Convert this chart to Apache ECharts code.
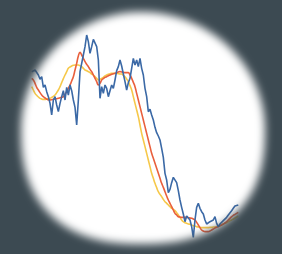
<!DOCTYPE html>
<html>
<head>
<meta charset="utf-8">
<script src="https://cdn.jsdelivr.net/npm/echarts@6/dist/echarts.min.js"></script>
<style>
  html, body { margin: 0; padding: 0; background: #3c4a52; }
  #wrap { position: relative; width: 282px; height: 254px; overflow: hidden; background: #ffffff; }
  #chart { position: absolute; left: 0; top: 0; width: 282px; height: 254px; filter: blur(0.35px); }
  #vig { position: absolute; left: 0; top: 0; width: 282px; height: 254px; pointer-events: none; }
</style>
</head>
<body>
<div id="wrap">
  <div id="chart"></div>
  <!-- soft dark vignette around the plot -->
  <svg id="vig" width="282" height="254" viewBox="0 0 282 254">
    <defs>
      <filter id="soft" x="-20%" y="-20%" width="140%" height="140%">
        <feGaussianBlur stdDeviation="4.5"/>
      </filter>
      <mask id="hole">
        <rect width="282" height="254" fill="white"/>
        <polygon id="oval" fill="black" filter="url(#soft)" points=""/>
      </mask>
    </defs>
    <rect width="282" height="254" fill="#3c4a52" mask="url(#hole)"/>
  </svg>
</div>
<script>
  // price series (noisy)
  var price = [
    53.5,53.5,54,53.8,52.5,51.2,52,48.8,49.5,47.5,
    46,44,40.5,45,46,43.5,41.5,44,46,47.8,
    45,48.8,46.5,49.5,47.8,45,42.8,37.5,45,53.5,
    56,58.5,61,64.5,62.5,59,61,63.2,63.5,61,
    57,45.5,49,47,49.5,48.5,46,47.8,49.5,48.5,
    51,53.8,55,57,55.2,52.8,50.5,48,50.2,51.5,
    51,57.5,55.5,57,55,57.5,54.5,52.5,48.5,46,
    41.5,42.2,40.5,39,36.8,35.2,34.2,33,30.5,27.8,
    23,21,17.2,18.2,20.2,21.8,21.8,20.2,17.8,15,
    12.8,10.8,8.5,10.2,9.8,9,7,3.8,9,12.8,
    14,12.5,11.5,10.8,9,7.8,7.5,8.5,8.2,9,
    10,8,7,7.8,8.2,8.8,9.2,9.8,10.5,11,
    11.8,12.5,13.2,13.8,13.5
  ];
  // short average (red)
  var maShort = [
    51.5,51,50,48.8,48,47.2,46.5,46,45.6,45.3,
    45,45,45.1,45.2,45.3,45.4,45.5,45.7,45.8,46,
    46.7,47.5,48.5,49.5,50.7,52,54,56,58.2,59.3,
    58.5,57.5,56.5,55.7,55,54.2,53.5,52.5,51.5,50.5,
    49.5,50,51,51.4,51.8,52,52.3,52.5,52.7,52.9,
    53,53.2,53.4,53.5,53.4,53.3,53.2,53.2,53.2,52.5,
    51.5,50.3,49,47,45,43,41,39,37,35,
    33,31,29,27.5,26,24.5,23,21.5,20,18.8,
    17.5,16.2,15,14,13,12,11,10.5,10,9.9,
    9.8,9.8,9.8,9.8,9.7,9.6,9.5,9.3,9,8.3,
    7.5,6.7,6,5.7,5.5,5.5,5.5,5.7,6,6.3,
    6.6,6.8,7,7.3,7.5,7.8,8.1,8.5,9,9.5,
    10,10.4,10.7,11,11.3
  ];
  // long average (yellow)
  var maLong = [
    49,48,47,46.4,45.9,45.5,45.3,45.2,45.2,45.3,
    45.4,45.5,45.8,46.1,46.5,47.2,48,49,50.2,51.4,
    52.5,53.5,54.5,54.9,55.2,55.4,55.5,55.5,55.5,55.3,
    55,54.5,54,53.8,53.5,53.2,52.8,52.5,52,51.5,
    51,51.2,51.5,51.8,52.2,52.5,52.7,52.9,53,53,
    53,53,52.9,52.8,52.8,52.4,52,51.3,50.5,49.3,
    48,46,44,42,40,37.5,35,33,31,29,
    27,25,23,21.5,20,18.7,17.5,16.7,16,15.2,
    14.5,14,13.5,13,12.5,12.2,11.8,11.2,10.5,9.8,
    9,8.5,8.2,8,7.8,7.7,7.5,7.3,7.2,7,
    6.9,6.8,6.7,6.7,6.7,6.7,6.7,6.8,6.8,6.9,
    6.9,7,7.2,7.3,7.5,7.8,8,8.2,8.5,8.8,
    9,9.3,9.6,9.9,10.2
  ];
  var days = price.map(function (v, i) { return i; });

  // vignette outline: plain oval on top, a bit fuller at the bottom, reaching further right
  var pts = [];
  for (var k = 0; k < 180; k++) {
    var t = k / 180 * Math.PI * 2;
    var c = Math.cos(t), s = Math.sin(t);
    var n = s < 0 ? 2.0 : 2.4;
    var ry = s < 0 ? 118 : 114;
    var rx = c > 0 ? 124 : 120;
    var px = 141 + rx * Math.sign(c) * Math.pow(Math.abs(c), 2 / n);
    var py = 130 + ry * Math.sign(s) * Math.pow(Math.abs(s), 2 / n);
    pts.push(px.toFixed(1) + ',' + py.toFixed(1));
  }
  document.getElementById('oval').setAttribute('points', pts.join(' '));

  var chart = echarts.init(document.getElementById('chart'), null, {renderer: 'canvas'});
  chart.setOption({
    backgroundColor: 'transparent',
    animation: false,
    grid: { left: 31.7, right: 43.7, top: 0, bottom: 4 },
    xAxis: { type: 'category', data: days, boundaryGap: false, show: false },
    yAxis: { type: 'value', min: 0, max: 75, show: false },
    series: [
      {
        name: 'long', type: 'line', data: maLong, symbol: 'none', smooth: true,
        lineStyle: { color: '#f6c84a', width: 1.6 }, z: 2
      },
      {
        name: 'short', type: 'line', data: maShort, symbol: 'none', smooth: true,
        lineStyle: { color: '#e95f3c', width: 1.6 }, z: 3
      },
      {
        name: 'price', type: 'line', data: price, symbol: 'none',
        lineStyle: { color: '#3b69a6', width: 1.6 }, z: 4
      }
    ]
  });
</script>
</body>
</html>
